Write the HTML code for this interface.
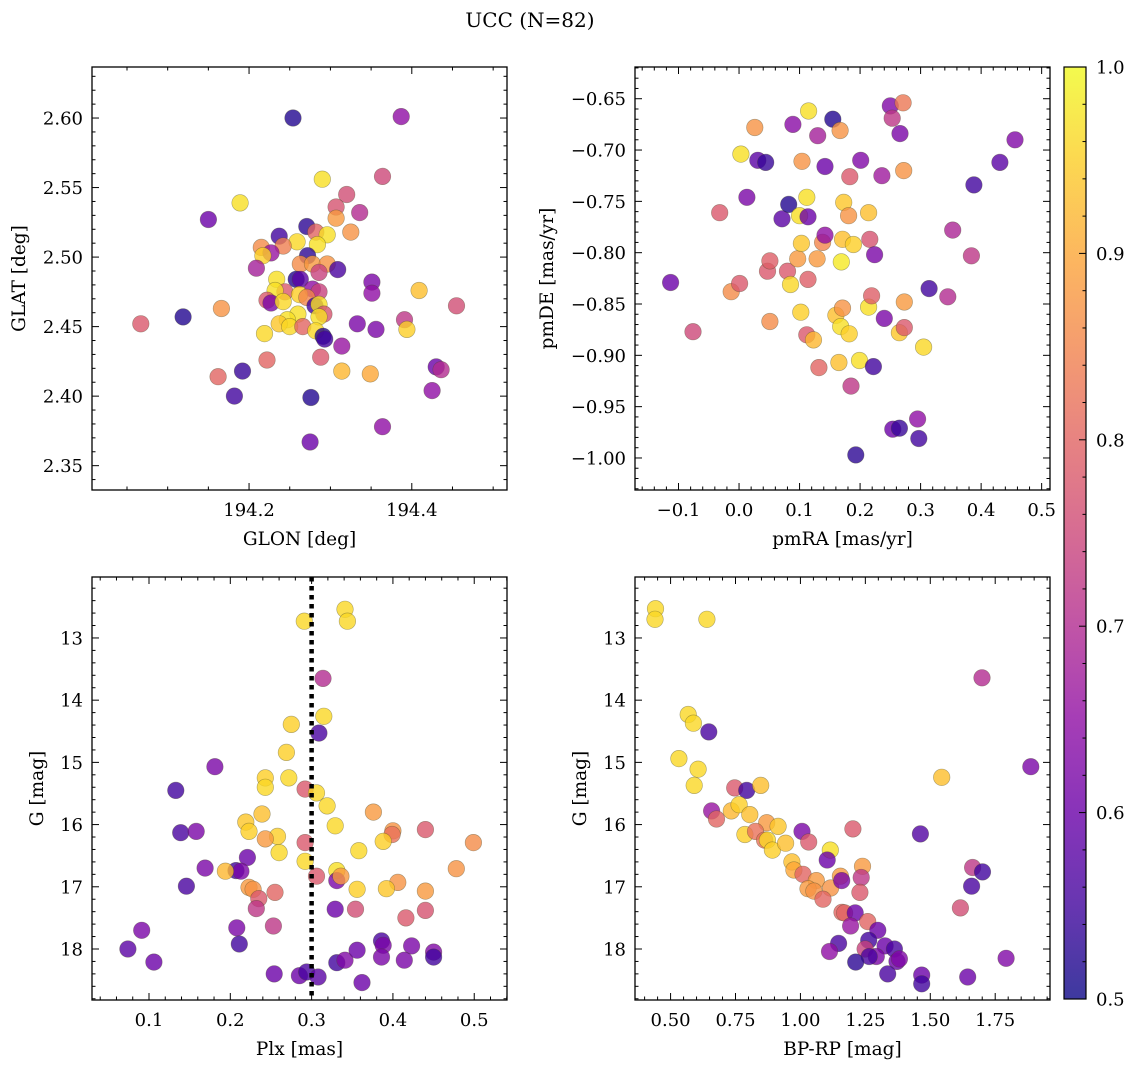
<!DOCTYPE html>
<html><head><meta charset="utf-8">
<style>
html,body{margin:0;padding:0;background:#fff;}
svg{display:block;font-family:"DejaVu Serif","Liberation Serif",serif;}
</style></head>
<body>
<svg id="fig" width="1136" height="1067" viewBox="0 0 1136 1067" xmlns="http://www.w3.org/2000/svg">
<rect width="1136" height="1067" fill="#fff"/>
<text x="530" y="27" font-size="20" text-anchor="middle">UCC (N=82)</text>
</svg>
<script>
// ---- Panel 1: GLON vs GLAT ----
const p1Glon = [194.254,194.387,194.290,194.364,194.320,194.189,194.307,194.336,194.307,194.150,194.271,194.282,194.296,194.325,194.237,194.259,194.284,194.215,194.242,194.227,194.217,194.272,194.263,194.278,194.296,194.309,194.209,194.286,194.258,194.263,194.234,194.351,194.351,194.409,194.278,194.286,194.244,194.232,194.262,194.271,194.222,194.227,194.242,194.166,194.281,194.286,194.455,194.119,194.067,194.260,194.292,194.286,194.247,194.237,194.250,194.266,194.333,194.356,194.391,194.394,194.282,194.291,194.293,194.219,194.314,194.288,194.222,194.314,194.349,194.162,194.192,194.430,194.436,194.182,194.276,194.425,194.364,194.275];
const p1Glat = [2.600,2.601,2.556,2.558,2.545,2.539,2.536,2.532,2.528,2.527,2.522,2.518,2.516,2.518,2.515,2.511,2.509,2.507,2.508,2.503,2.501,2.501,2.495,2.495,2.495,2.491,2.492,2.489,2.484,2.484,2.484,2.482,2.474,2.476,2.477,2.475,2.475,2.476,2.473,2.471,2.469,2.467,2.468,2.463,2.465,2.466,2.465,2.457,2.452,2.459,2.459,2.457,2.455,2.452,2.450,2.450,2.452,2.448,2.455,2.448,2.447,2.443,2.441,2.445,2.436,2.428,2.426,2.418,2.416,2.414,2.418,2.421,2.419,2.400,2.399,2.404,2.378,2.367];
const p1Prob = [.52,.65,.97,.75,.76,.97,.77,.70,.88,.60,.53,.80,.97,.87,.55,.96,.97,.86,.84,.66,.95,.53,.86,.88,.87,.56,.68,.74,.52,.58,.97,.62,.65,.93,.65,.74,.78,.97,.95,.85,.78,.62,.96,.87,.55,.97,.76,.52,.78,.97,.77,.97,.97,.94,.96,.80,.62,.62,.72,.95,.96,.52,.55,.96,.66,.78,.80,.92,.90,.80,.54,.60,.70,.55,.52,.65,.65,.60];
// ---- Panel 2: pmRA vs pmDE ----
const p2PmRA = [-0.113,-0.076,-0.032,-0.013,0.001,0.003,0.013,0.026,0.031,0.044,0.047,0.051,0.051,0.071,0.082,0.080,0.085,0.089,0.097,0.100,0.102,0.103,0.104,0.112,0.112,0.114,0.114,0.115,0.123,0.129,0.130,0.132,0.138,0.142,0.142,0.155,0.160,0.165,0.167,0.168,0.169,0.171,0.171,0.173,0.181,0.182,0.183,0.185,0.189,0.193,0.199,0.201,0.214,0.214,0.216,0.219,0.222,0.224,0.236,0.240,0.250,0.253,0.254,0.265,0.265,0.273,0.266,0.271,0.272,0.273,0.295,0.297,0.305,0.314,0.345,0.353,0.384,0.388,0.431,0.456];
const p2PmDE = [-0.829,-0.877,-0.761,-0.838,-0.830,-0.704,-0.746,-0.678,-0.710,-0.712,-0.818,-0.808,-0.867,-0.767,-0.753,-0.818,-0.831,-0.675,-0.806,-0.764,-0.858,-0.791,-0.711,-0.746,-0.880,-0.826,-0.765,-0.662,-0.885,-0.806,-0.686,-0.912,-0.790,-0.783,-0.716,-0.670,-0.861,-0.907,-0.681,-0.872,-0.809,-0.787,-0.854,-0.751,-0.764,-0.879,-0.726,-0.930,-0.792,-0.997,-0.905,-0.710,-0.761,-0.853,-0.787,-0.842,-0.911,-0.802,-0.725,-0.864,-0.657,-0.669,-0.972,-0.971,-0.878,-0.873,-0.684,-0.654,-0.720,-0.848,-0.962,-0.981,-0.892,-0.835,-0.843,-0.778,-0.803,-0.734,-0.712,-0.690];
const p2Prob = [.60,.75,.78,.86,.78,.97,.62,.87,.58,.54,.78,.79,.86,.58,.52,.78,.96,.64,.88,.97,.95,.94,.87,.97,.78,.79,.60,.97,.92,.88,.68,.80,.85,.65,.60,.52,.93,.93,.87,.97,.98,.93,.87,.94,.87,.95,.78,.72,.95,.53,.97,.63,.93,.97,.77,.79,.55,.62,.67,.62,.63,.72,.60,.54,.94,.78,.62,.83,.87,.88,.65,.55,.96,.55,.70,.69,.72,.55,.58,.63];
// ---- Panel 3: Plx vs G ----
const p3Plx = [0.291,0.341,0.344,0.314,0.315,0.275,0.309,0.133,0.181,0.269,0.243,0.272,0.292,0.243,0.306,0.319,0.376,0.139,0.158,0.219,0.239,0.223,0.329,0.400,0.399,0.440,0.499,0.388,0.258,0.243,0.292,0.358,0.260,0.221,0.169,0.207,0.213,0.194,0.292,0.331,0.478,0.306,0.331,0.336,0.406,0.356,0.392,0.146,0.223,0.228,0.255,0.440,0.235,0.232,0.329,0.354,0.416,0.440,0.091,0.208,0.253,0.386,0.388,0.423,0.211,0.074,0.106,0.331,0.341,0.356,0.386,0.414,0.450,0.450,0.254,0.285,0.294,0.308,0.362];
const p3G = [12.73,12.54,12.73,13.65,14.26,14.39,14.53,15.45,15.07,14.84,15.25,15.25,15.43,15.40,15.49,15.70,15.80,16.13,16.11,15.96,15.83,16.11,16.02,16.10,16.16,16.08,16.29,16.27,16.19,16.23,16.29,16.42,16.45,16.53,16.70,16.74,16.75,16.75,16.59,16.74,16.71,16.83,16.90,16.83,16.93,17.04,17.03,16.99,17.01,17.04,17.09,17.07,17.19,17.35,17.36,17.36,17.50,17.38,17.70,17.66,17.63,17.87,17.94,17.95,17.92,18.00,18.21,18.22,18.18,18.02,18.13,18.18,18.05,18.13,18.40,18.43,18.37,18.45,18.54];
const p3Prob = [.96,.96,.96,.70,.96,.95,.56,.55,.62,.95,.95,.96,.78,.96,.96,.96,.88,.56,.62,.94,.93,.95,.96,.87,.82,.78,.86,.95,.95,.88,.78,.96,.96,.60,.62,.55,.62,.92,.96,.97,.87,.78,.62,.88,.87,.95,.94,.56,.88,.87,.80,.88,.78,.72,.60,.76,.78,.77,.62,.62,.72,.56,.62,.62,.55,.58,.60,.55,.63,.60,.62,.62,.63,.55,.60,.60,.56,.58,.60];
const plxLine = [0.3];
// ---- Panel 4: BP-RP vs G ----
const p4BpRp = [0.442,0.440,0.640,1.699,0.568,0.588,0.647,0.532,0.606,0.591,0.747,0.793,0.847,1.544,1.887,0.658,0.677,0.734,0.764,0.805,0.870,0.914,0.786,0.827,0.862,0.873,0.892,0.943,1.006,1.032,1.115,1.103,1.202,1.462,0.967,0.975,1.010,1.061,1.029,1.052,1.116,1.087,1.154,1.159,1.239,1.234,1.229,1.663,1.701,1.659,1.616,1.160,1.170,1.211,1.193,1.259,1.298,1.263,1.147,1.112,1.249,1.326,1.362,1.292,1.265,1.213,1.372,1.381,1.336,1.467,1.467,1.644,1.792];
const p4G = [12.53,12.70,12.70,13.64,14.23,14.37,14.51,14.94,15.11,15.37,15.41,15.45,15.37,15.24,15.07,15.78,15.91,15.78,15.68,15.84,15.97,16.03,16.16,16.11,16.25,16.25,16.41,16.30,16.11,16.28,16.41,16.57,16.07,16.15,16.60,16.73,16.80,16.90,17.03,17.07,17.02,17.20,16.83,16.90,16.67,16.85,17.09,16.69,16.76,16.99,17.34,17.41,17.42,17.42,17.63,17.56,17.70,17.86,17.91,18.04,18.00,17.95,18.00,18.12,18.12,18.21,18.20,18.16,18.40,18.42,18.56,18.45,18.15];
const p4Prob = [.96,.96,.96,.70,.96,.96,.56,.96,.96,.96,.78,.55,.93,.93,.62,.66,.80,.92,.95,.93,.88,.94,.95,.82,.82,.96,.95,.93,.62,.78,.97,.60,.78,.57,.93,.90,.80,.88,.88,.87,.87,.80,.88,.62,.88,.72,.78,.72,.55,.56,.76,.80,.80,.60,.66,.80,.60,.55,.56,.65,.74,.60,.56,.62,.56,.53,.60,.63,.56,.60,.55,.60,.63];
// ---- colorbar ----
const cbTicks = [0.5,0.6,0.7,0.8,0.9,1.0];
const cbMin = 0.5, cbMax = 1.0;

const NS = 'http://www.w3.org/2000/svg';
const svg = document.getElementById('fig');
function mk(tag, attrs, parent){
  const e = document.createElementNS(NS, tag);
  for (const k in attrs) e.setAttribute(k, attrs[k]);
  (parent||svg).appendChild(e);
  return e;
}
const plasmaStops = ['#0d0887','#41049d','#6a00a8','#8f0da4','#b12a90','#cc4778','#e16462','#f2844b','#fca636','#fcce25','#f0f921'];
function hex(h){return [parseInt(h.substr(1,2),16),parseInt(h.substr(3,2),16),parseInt(h.substr(5,2),16)];}
function plasma(t){
  t = Math.max(0, Math.min(1, t));
  const f = t*10, i = Math.min(9, Math.floor(f)), r = f - i;
  const a = hex(plasmaStops[i]), b = hex(plasmaStops[i+1]);
  return 'rgb(' + a.map((v,k)=>Math.round(v+(b[k]-v)*r)).join(',') + ')';
}
function colorOf(c){ return plasma((c-cbMin)/(cbMax-cbMin)); }

function fmt(v, dec){ let s = v.toFixed(dec); if (v < 0) s = '\u2212' + s.slice(1); return s; }

const panels = [
  {name:'glon-glat-panel', L:92, T:67, W:415, H:423, xmin:194.007, xmax:194.517, ymin:2.3325, ymax:2.6367, inv:false,
   xMaj:0.2, xMin:0.05, xDec:1, yMaj:0.05, yMin:0.01, yDec:2, xlab:'GLON [deg]', ylab:'GLAT [deg]', ylabX:19,
   xs:p1Glon, ys:p1Glat, cs:p1Prob},
  {name:'pmra-pmde-panel', L:635, T:67, W:415, H:423, xmin:-0.1719, xmax:0.5138, ymin:-1.0312, ymax:-0.6191, inv:false,
   xMaj:0.1, xMin:0.02, xDec:1, yMaj:0.05, yMin:0.01, yDec:2, xlab:'pmRA [mas/yr]', ylab:'pmDE [mas/yr]', ylabX:547,
   xs:p2PmRA, ys:p2PmDE, cs:p2Prob},
  {name:'plx-g-panel', L:92, T:577, W:415, H:423, xmin:0.0299, xmax:0.5403, ymin:12.02, ymax:18.82, inv:true,
   xMaj:0.1, xMin:0.02, xDec:1, yMaj:1, yMin:0.2, yDec:0, xlab:'Plx [mas]', ylab:'G [mag]', ylabX:37,
   xs:p3Plx, ys:p3G, cs:p3Prob, vline:plxLine},
  {name:'bprp-g-panel', L:635, T:577, W:415, H:423, xmin:0.363, xmax:1.961, ymin:12.02, ymax:18.82, inv:true,
   xMaj:0.25, xMin:0.05, xDec:2, yMaj:1, yMin:0.2, yDec:0, xlab:'BP-RP [mag]', ylab:'G [mag]', ylabX:580,
   xs:p4BpRp, ys:p4G, cs:p4Prob}
];

panels.forEach(p => {
  const g = mk('g', {});
  
  
  const sx = v => p.L + (v - p.xmin)/(p.xmax - p.xmin)*p.W;
  const sy = v => p.inv ? p.T + (v - p.ymin)/(p.ymax - p.ymin)*p.H : p.T + (p.ymax - v)/(p.ymax - p.ymin)*p.H;
  const clip = mk('clipPath', {id:'clip-'+p.name}, g);
  mk('rect', {x:p.L, y:p.T, width:p.W, height:p.H}, clip);
  const pts = mk('g', {'clip-path':'url(#clip-'+p.name+')'}, g);
  
  
  const n = Math.min(p.xs.length, p.ys.length, p.cs.length);
  for (let i = 0; i < n; i++){
    const c = mk('circle', {cx:sx(p.xs[i]).toFixed(1), cy:sy(p.ys[i]).toFixed(1), r:8.3, fill:colorOf(p.cs[i]), 'fill-opacity':0.8, stroke:'rgba(70,70,40,0.45)', 'stroke-width':0.6}, pts);
    
    
  }
  if (p.vline){
    p.vline.forEach(v => {
      const l = mk('line', {x1:sx(v), x2:sx(v), y1:p.T, y2:p.T+p.H, stroke:'#000', 'stroke-width':4.5, 'stroke-dasharray':'4.5,4.5'}, g);
      
      
    });
  }
  const tk = mk('g', {stroke:'#000', 'stroke-width':1}, g);
  const xi0 = Math.ceil(p.xmin/p.xMin - 1e-6), xi1 = Math.floor(p.xmax/p.xMin + 1e-6);
  const ratioX = Math.round(p.xMaj/p.xMin);
  for (let i = xi0; i <= xi1; i++){
    const v = i*p.xMin, x = sx(v);
    const major = (((i % ratioX) + ratioX) % ratioX) === 0;
    const len = major ? 7 : 3.5;
    mk('line', {x1:x, x2:x, y1:p.T+p.H, y2:p.T+p.H-len}, tk);
    mk('line', {x1:x, x2:x, y1:p.T, y2:p.T+len}, tk);
    if (major){
      const t = mk('text', {x:x, y:p.T+p.H+26, 'font-size':18, 'text-anchor':'middle', stroke:'none', fill:'#000'}, g);
      t.textContent = fmt(v, p.xDec);
      
      
    }
  }
  const yi0 = Math.ceil(p.ymin/p.yMin - 1e-6), yi1 = Math.floor(p.ymax/p.yMin + 1e-6);
  const ratioY = Math.round(p.yMaj/p.yMin);
  for (let i = yi0; i <= yi1; i++){
    const v = i*p.yMin, y = sy(v);
    const major = (((i % ratioY) + ratioY) % ratioY) === 0;
    const len = major ? 7 : 3.5;
    mk('line', {x1:p.L, x2:p.L+len, y1:y, y2:y}, tk);
    mk('line', {x1:p.L+p.W, x2:p.L+p.W-len, y1:y, y2:y}, tk);
    if (major){
      const t = mk('text', {x:p.L-9, y:y+6.5, 'font-size':18, 'text-anchor':'end', stroke:'none', fill:'#000'}, g);
      t.textContent = fmt(v, p.yDec);
      
      
    }
  }
  const fr = mk('rect', {x:p.L, y:p.T, width:p.W, height:p.H, fill:'none', stroke:'#000', 'stroke-width':1.3}, g);
  
  
  const xl = mk('text', {x:p.L+p.W/2, y:p.T+p.H+55, 'font-size':18.5, 'text-anchor':'middle'}, g);
  xl.textContent = p.xlab;
  
  
  const yc = p.T + p.H/2;
  const yl = mk('text', {x:p.ylabX, y:yc, 'font-size':18.5, 'text-anchor':'middle', transform:'rotate(-90 '+p.ylabX+' '+yc+')', dy:6}, g);
  yl.textContent = p.ylab;
  
  
});

// colorbar
(function(){
  const L = 1064, T = 67, W = 22, H = 932;
  const g = mk('g', {});
  
  
  const defs = mk('defs', {}, g);
  const grad = mk('linearGradient', {id:'cbgrad', x1:0, y1:1, x2:0, y2:0}, defs);
  for (let i = 0; i <= 20; i++){
    mk('stop', {offset:(i/20), 'stop-color':plasma(i/20)}, grad);
  }
  mk('rect', {x:L, y:T, width:W, height:H, fill:'url(#cbgrad)', 'fill-opacity':0.8}, g);
  mk('rect', {x:L, y:T, width:W, height:H, fill:'none', stroke:'#000', 'stroke-width':1.2}, g);
  const sy = v => T + (cbMax - v)/(cbMax - cbMin)*H;
  for (let i = 0; i <= 25; i++){
    const v = cbMin + i*0.02, y = sy(v);
    const major = i % 5 === 0;
    mk('line', {x1:L+W, x2:L+W-(major?7:3.5), y1:y, y2:y, stroke:'#000', 'stroke-width':1}, g);
  }
  cbTicks.forEach(v => {
    const t = mk('text', {x:L+W+10, y:sy(v)+6.5, 'font-size':18}, g);
    t.textContent = v.toFixed(1);
    
    
  });
})();
</script>
</body></html>
